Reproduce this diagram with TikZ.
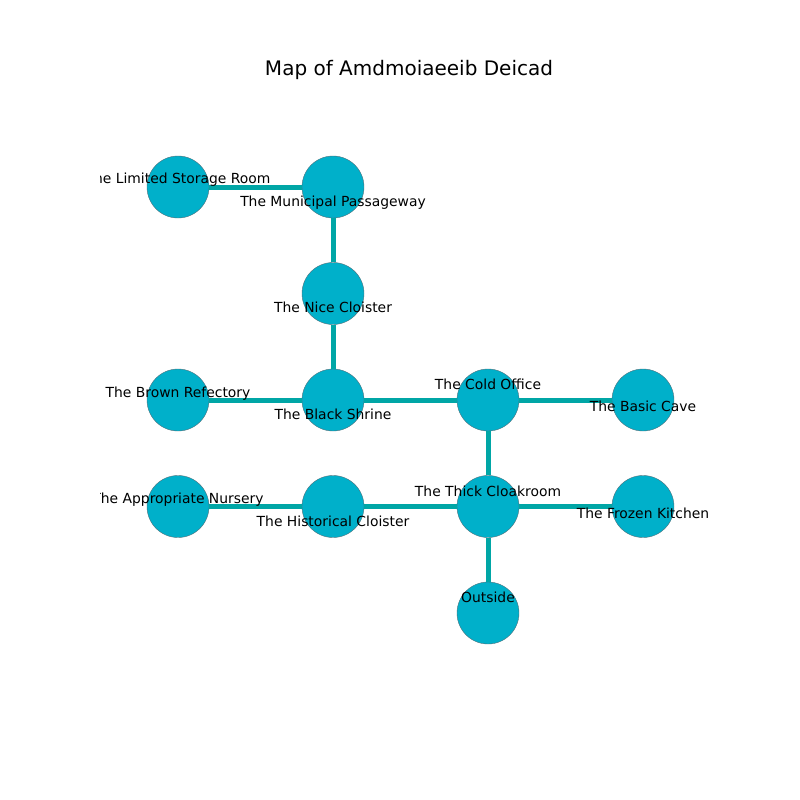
\documentclass[tikz,border=0pt]{standalone}
\usepackage{fontspec}
\setmainfont{DejaVu Sans}
\definecolor{nodefill}{RGB}{0,176,202}
\definecolor{edgecol}{RGB}{0,166,166}
\definecolor{nodeline}{RGB}{80,110,120}
\begin{document}
\begin{tikzpicture}[x=1pt,y=-1pt,
  room/.style={circle,fill=nodefill,draw=nodeline,line width=0.4pt,minimum size=62pt,inner sep=0pt},
  link/.style={draw=edgecol,line width=5pt},
  lab/.style={anchor=base,inner sep=0pt,font=\fontsize{13.89pt}{16pt}\selectfont},
  ttl/.style={anchor=base,inner sep=0pt,font=\fontsize{20pt}{24pt}\selectfont}]
\useasboundingbox (0,0) rectangle (800,800);
\node[ttl] (title) at (409,75) {Map of Amdmoiaeeib Deicad};
% rooms
\node[room] (lsr) at (178,187) {};
\node[room] (mp) at (333,187) {};
\node[room] (nc) at (333,293.5) {};
\node[room] (br) at (178,400) {};
\node[room] (bs) at (333,400) {};
\node[room] (co) at (488,400) {};
\node[room] (bc) at (643,400) {};
\node[room] (an) at (178,506.5) {};
\node[room] (hc) at (333,506.5) {};
\node[room] (tc) at (488,506.5) {};
\node[room] (fk) at (643,506.5) {};
\node[room] (out) at (488,613) {};
% connectors
\draw[link] (lsr) -- (mp);
\draw[link] (mp) -- (nc);
\draw[link] (nc) -- (bs);
\draw[link] (br) -- (bs);
\draw[link] (bs) -- (co);
\draw[link] (co) -- (bc);
\draw[link] (co) -- (tc);
\draw[link] (an) -- (hc);
\draw[link] (hc) -- (tc);
\draw[link] (tc) -- (fk);
\draw[link] (tc) -- (out);
% labels
\begin{scope}
\clip (100,96) rectangle (720,712);
\node[lab] (llsr) at (178,183) {The Limited Storage Room};
\node[lab] (lmp) at (333,206) {The Municipal Passageway};
\node[lab] (lnc) at (333,312.4) {The Nice Cloister};
\node[lab] (lbr) at (178,397.4) {The Brown Refectory};
\node[lab] (lbs) at (333,419) {The Black Shrine};
\node[lab] (lco) at (488,389) {The Cold Office};
\node[lab] (lbc) at (643,411.4) {The Basic Cave};
\node[lab] (lan) at (178,503.4) {The Appropriate Nursery};
\node[lab] (lhc) at (333,526.4) {The Historical Cloister};
\node[lab] (ltc) at (488,496.4) {The Thick Cloakroom};
\node[lab] (lfk) at (643,518.4) {The Frozen Kitchen};
\node[lab] (lout) at (488,602.4) {Outside};
\end{scope}
\end{tikzpicture}
\end{document}
